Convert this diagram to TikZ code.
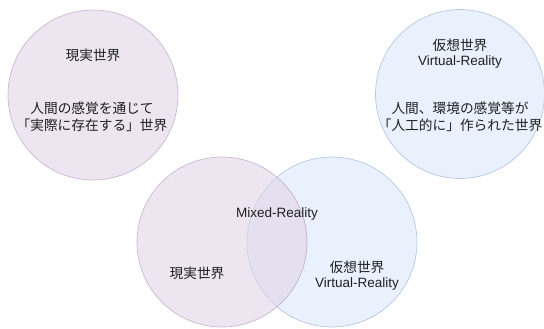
\documentclass[tikz,border=0pt]{standalone}
\usepackage{fontspec}
\setmainfont{Liberation Sans}
\newfontfamily\jp{Noto Sans CJK JP}
\definecolor{pfill}{HTML}{E1D5E7}
\definecolor{pline}{HTML}{9673A6}
\definecolor{bfill}{HTML}{DAE8FC}
\definecolor{bline}{HTML}{6C8EBF}
\begin{document}
\begin{tikzpicture}[x=1pt,y=-1pt,
  pcirc/.style={fill=pfill,draw=pline,fill opacity=0.6,draw opacity=0.45,line width=0.7pt},
  bcirc/.style={fill=bfill,draw=bline,fill opacity=0.6,draw opacity=0.45,line width=0.7pt},
  lbl/.style={font=\jp\fontsize{13.7}{17.5}\selectfont,text=black!88,align=center,inner sep=0pt}]
\useasboundingbox (0,0) rectangle (544,329);
% top circles
\draw[pcirc] (93,95) circle (85);
\draw[bcirc] (460,94) circle (84.5);
% bottom venn
\draw[bcirc] (332,242) circle (85);
\draw[pcirc] (222,242) circle (85);
\node[lbl] (tl1) at (93,55) {現実世界};
\node[lbl] (tl2) at (92,117) {人間の感覚を通じて\\「実際に存在する」世界};
\node[lbl] (tr1) at (460,45) {仮想世界};
\node[lbl,font=\fontsize{13.5}{17}\selectfont] (tr2) at (460,62) {Virtual-Reality};
\node[lbl] (tr3) at (460,117) {人間、環境の感覚等が\\「人工的に」作られた世界};
\node[lbl,font=\fontsize{13.5}{17}\selectfont] (mr) at (277,214) {Mixed-Reality};
\node[lbl] (bl) at (197,273) {現実世界};
\node[lbl] (br1) at (357,267) {仮想世界};
\node[lbl,font=\fontsize{13.5}{17}\selectfont] (br2) at (357,284) {Virtual-Reality};
\end{tikzpicture}
\end{document}
